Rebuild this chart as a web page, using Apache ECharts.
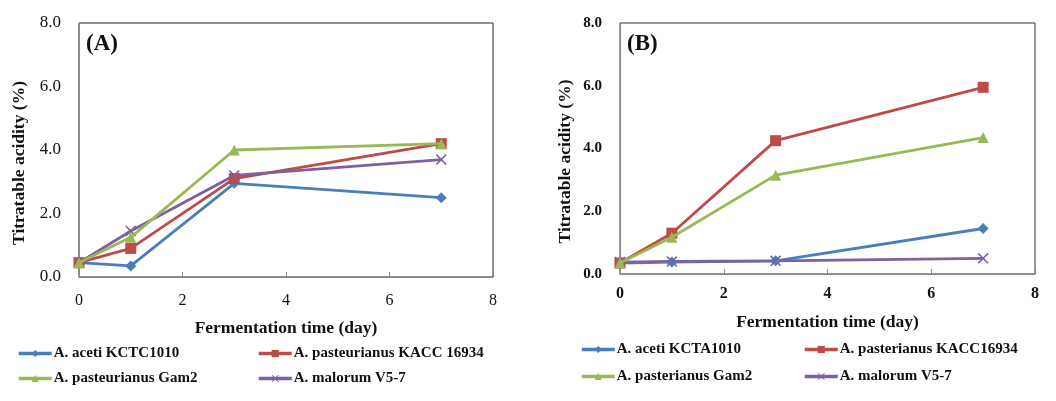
<!DOCTYPE html>
<html>
<head>
<meta charset="utf-8">
<script src="https://cdn.jsdelivr.net/npm/echarts@6/dist/echarts.min.js"></script>
<style>html,body{margin:0;padding:0;background:#fff}#c{width:1056px;height:401px}</style>
</head>
<body>
<div id="c"></div>
<script>
const days = [0, 1, 3, 7];
const xTicks = [0, 2, 4, 6, 8];
const yTicks = [0, 2, 4, 6, 8];

// Panel (A)
const namesA = ['A. aceti KCTC1010', 'A. pasteurianus KACC 16934', 'A. pasteurianus Gam2', 'A. malorum V5-7'];
const acetiA = [0.45, 0.35, 2.95, 2.5];
const kaccA = [0.45, 0.9, 3.1, 4.2];
const gam2A = [0.45, 1.25, 4.0, 4.2];
const malorumA = [0.45, 1.45, 3.2, 3.7];

// Panel (B)
const namesB = ['A. aceti KCTA1010', 'A. pasterianus KACC16934', 'A. pasterianus Gam2', 'A. malorum V5-7 '];
const acetiB = [0.35, 0.38, 0.42, 1.45];
const kaccB = [0.35, 1.3, 4.25, 5.95];
const gam2B = [0.35, 1.17, 3.15, 4.35];
const malorumB = [0.38, 0.4, 0.42, 0.5];

const colors = ['#4A7EBB', '#BE4B48', '#98B954', '#7D60A0'];
const symbols = ['diamond', 'rect', 'triangle', 'path://M0,1L1,0L5,4L9,0L10,1L6,5L10,9L9,10L5,6L1,10L0,9L4,5Z'];
const symSizes = [11, 11, 11, 11];
const serif = '"Liberation Serif", "DejaVu Serif", serif';

function pairs(vals) { return days.map((d, i) => [d, vals[i]]); }

function mkSeries(names, arrs, gi) {
  return arrs.map((a, i) => ({
    name: names[i], type: 'line', xAxisIndex: gi, yAxisIndex: gi,
    data: pairs(a), symbol: symbols[i], symbolSize: symSizes[i],
    lineStyle: { width: 2.8, color: colors[i] },
    itemStyle: { color: colors[i] },
    z: i === 2 ? 3 : 2
  }));
}

function mkX(gi, bold, labelMargin, nameGap) {
  return {
    gridIndex: gi, type: 'value', min: xTicks[0], max: xTicks[xTicks.length - 1], interval: 2,
    axisLine: { show: true, lineStyle: { color: '#888', width: 1 } },
    axisTick: { show: true, inside: true, length: 5, lineStyle: { color: '#888' } },
    splitLine: { show: false },
    axisLabel: { color: '#111', fontFamily: serif, fontSize: 16, fontWeight: bold ? 'bold' : 'normal', margin: labelMargin },
    name: 'Fermentation time (day)', nameLocation: 'middle', nameGap: nameGap,
    nameTextStyle: { color: '#111', fontFamily: serif, fontSize: 17.5, fontWeight: 'bold' }
  };
}
function mkY(gi, bold, fs, nameGap, shift) {
  return {
    gridIndex: gi, type: 'value', min: yTicks[0], max: yTicks[yTicks.length - 1], interval: 2,
    axisLine: { show: true, lineStyle: { color: '#888', width: 1 } },
    axisTick: { show: false },
    splitLine: { show: false },
    axisLabel: { color: '#111', fontFamily: serif, fontSize: fs, fontWeight: bold ? 'bold' : 'normal', margin: 18, formatter: v => v.toFixed(1) },
    name: 'Titratable acidity (%)', nameLocation: 'middle', nameGap: nameGap, nameRotate: 90,
    nameTextStyle: { color: '#111', fontFamily: serif, fontSize: 17.5, fontWeight: 'bold', padding: [0, shift, 0, 0] }
  };
}
function mkLegend(name, left, top) {
  return {
    data: [name], left: left, top: top, padding: 0, itemWidth: 33, itemHeight: 9, itemGap: 2,
    selectedMode: false,
    lineStyle: { width: 3.5 },
    textStyle: { color: '#111', fontFamily: serif, fontSize: 15, fontWeight: 'bold', padding: [0, 0, 0, -3] }
  };
}

const chart = echarts.init(document.getElementById('c'));
chart.setOption({
  animation: false,
  backgroundColor: '#fff',
  grid: [
    { left: 79, top: 23, width: 414, height: 254, show: true, borderColor: '#222', borderWidth: 1 },
    { left: 620, top: 23, width: 415, height: 251, show: true, borderColor: '#333', borderWidth: 1 }
  ],
  title: [
    { text: '(A)', left: 86, top: 33, padding: 0, textStyle: { fontFamily: serif, fontSize: 23, fontWeight: 'bold', color: '#111' } },
    { text: '(B)', left: 627, top: 33, padding: 0, textStyle: { fontFamily: serif, fontSize: 23, fontWeight: 'bold', color: '#111' } }
  ],
  xAxis: [mkX(0, false, 16, 42), mkX(1, true, 12, 39)],
  yAxis: [mkY(0, false, 17, 51, 26), mkY(1, true, 15, 46, 26)],
  legend: [
    mkLegend(namesA[0], 17, 346), mkLegend(namesA[1], 257, 346),
    mkLegend(namesA[2], 17, 371), mkLegend(namesA[3], 257, 371),
    mkLegend(namesB[0], 580, 342), mkLegend(namesB[1], 803, 342),
    mkLegend(namesB[2], 580, 369), mkLegend(namesB[3], 803, 369)
  ],
  series: [
    ...mkSeries(namesA, [acetiA, kaccA, gam2A, malorumA], 0),
    ...mkSeries(namesB, [acetiB, kaccB, gam2B, malorumB], 1)
  ]
});
</script>
</body>
</html>
